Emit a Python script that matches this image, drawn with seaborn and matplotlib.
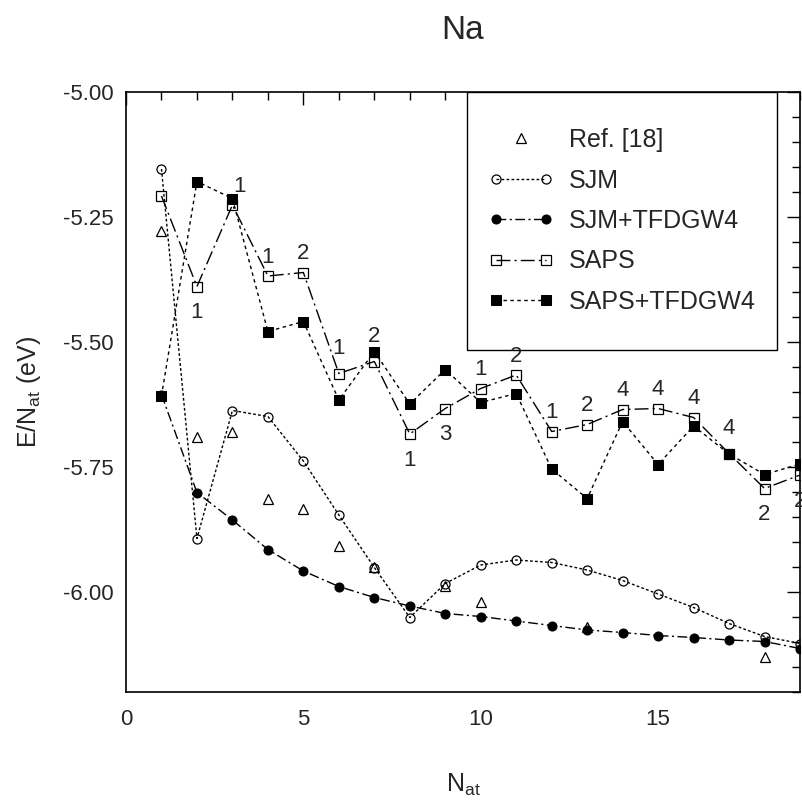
import numpy as np
import pandas as pd
import matplotlib
matplotlib.use("Agg")
import matplotlib.pyplot as plt
import seaborn as sns
from matplotlib.patches import Rectangle
from matplotlib.legend_handler import HandlerLine2D
from matplotlib.ticker import MultipleLocator, FormatStrFormatter

# ---------------- data ----------------
n_at = list(range(1, 20))
ref_n = [1, 2, 3, 4, 5, 6, 7, 9, 10, 13, 18]
ref_e = [-5.277, -5.689, -5.679, -5.813, -5.833, -5.908, -5.950, -5.988, -6.019, -6.069, -6.129]
sjm = [-5.154, -5.893, -5.637, -5.649, -5.738, -5.846, -5.951, -6.051, -5.983, -5.946,
       -5.936, -5.941, -5.956, -5.977, -6.004, -6.031, -6.063, -6.089, -6.103]
sjm_tfdgw4 = [-5.605, -5.801, -5.856, -5.915, -5.958, -5.989, -6.011, -6.028, -6.043, -6.049,
              -6.058, -6.067, -6.076, -6.081, -6.087, -6.091, -6.096, -6.099, -6.113]
saps = [-5.208, -5.389, -5.226, -5.368, -5.361, -5.563, -5.539, -5.684, -5.633, -5.593,
        -5.566, -5.679, -5.665, -5.635, -5.633, -5.651, -5.723, -5.793, -5.766]
saps_tfdgw4 = [-5.608, -5.179, -5.213, -5.479, -5.459, -5.616, -5.519, -5.624, -5.555, -5.621,
               -5.603, -5.754, -5.813, -5.659, -5.745, -5.668, -5.724, -5.765, -5.744]
saps_labels = ["", "1", "1", "1", "2", "1", "2", "1", "3", "1",
               "2", "1", "2", "4", "4", "4", "4", "2", "2"]
saps_label_side = ["", "b", "r", "a", "a", "A", "A", "b", "b", "a",
                   "a", "a", "a", "a", "a", "a", "A", "b", "b"]
series_names = ["Ref. [18]", "SJM", "SJM+TFDGW4", "SAPS", "SAPS+TFDGW4"]

# ---------------- style ----------------
sns.set_style("white")
plt.rcParams["font.family"] = ["Liberation Sans", "DejaVu Sans"]
plt.rcParams["mathtext.fontset"] = "custom"
plt.rcParams["mathtext.rm"] = "Liberation Sans"
plt.rcParams["mathtext.it"] = "Liberation Sans:italic"
plt.rcParams["axes.unicode_minus"] = False

fig = plt.figure(figsize=(8.02, 8.10), dpi=100)
W, H = 802, 810
ax = fig.add_axes([126 / W, 1 - 692 / H, 674 / W, 600 / H])

lw = 1.0
sns.lineplot(x=ref_n, y=ref_e, ax=ax, color="black", marker="^", markersize=6.5,
             markerfacecolor="none", markeredgecolor="black", markeredgewidth=0.9,
             linestyle="none", label=series_names[0])
sns.lineplot(x=n_at, y=sjm, ax=ax, color="black", lw=lw, marker="o", markersize=6.5,
             markerfacecolor="none", markeredgecolor="black", markeredgewidth=0.9,
             linestyle=(0, (2, 1.6)), label=series_names[1])
sns.lineplot(x=n_at, y=sjm_tfdgw4, ax=ax, color="black", lw=lw, marker="o", markersize=6.5,
             markerfacecolor="black", markeredgecolor="black",
             linestyle=(0, (7, 2.5, 1.5, 2.5)), label=series_names[2])
sns.lineplot(x=n_at, y=saps, ax=ax, color="black", lw=lw, marker="s", markersize=7,
             markerfacecolor="none", markeredgecolor="black", markeredgewidth=0.9,
             linestyle=(0, (10, 3, 1.5, 3)), label=series_names[3])
sns.lineplot(x=n_at, y=saps_tfdgw4, ax=ax, color="black", lw=lw, marker="s", markersize=6.5,
             markerfacecolor="black", markeredgecolor="black",
             linestyle=(0, (2.5, 2.5)), label=series_names[4])

# isomer labels next to SAPS points
offsets = {"a": (0, 13.5), "A": (0, 18), "b": (0, -19), "r": (5, 13)}
for x, y, lab, side in zip(n_at, saps, saps_labels, saps_label_side):
    if lab:
        t = ax.annotate(lab, (x, y), xytext=offsets[side], textcoords="offset points",
                        ha="center", va="center", fontsize=16, annotation_clip=False,
                        zorder=7)
        t.set_clip_on(True)

# axes
ax.set_xlim(0, 19)
ax.set_ylim(-6.2, -5.0)
ax.xaxis.set_major_locator(MultipleLocator(5))
ax.xaxis.set_minor_locator(MultipleLocator(1))
ax.yaxis.set_major_locator(MultipleLocator(0.25))
ax.yaxis.set_minor_locator(MultipleLocator(0.05))
ax.yaxis.set_major_formatter(FormatStrFormatter("%.2f"))
ax.tick_params(which="both", direction="in", top=True, right=True, color="black", width=1.0)
ax.tick_params(which="major", length=9.5, labelsize=16)
ax.tick_params(axis="y", which="major", pad=9)
ax.tick_params(axis="x", which="major", pad=12)
ax.tick_params(which="minor", length=5.5)
for s in ax.spines.values():
    s.set_color("black")
    s.set_linewidth(1.2)

ax.set_title("Na", fontsize=24, pad=38)
ax.set_xlabel(r"N$_{\mathrm{at}}$", fontsize=18, labelpad=30)
ax.set_ylabel(r"E/N$_{\mathrm{at}}$ (eV)", fontsize=18, labelpad=14)

# legend with box
box = Rectangle((0.506, 0.57), 0.46, 0.43, transform=ax.transAxes, facecolor="white",
                edgecolor="black", linewidth=1.0, zorder=5)
ax.add_patch(box)
handles, labels = ax.get_legend_handles_labels()
ref_handle = handles[0]
leg = ax.legend(handles, labels, loc="center", bbox_to_anchor=(0.506 + 0.23, 0.57 + 0.215),
                frameon=False, fontsize=18, numpoints=2, handlelength=2.6,
                handletextpad=0.6, labelspacing=0.66,
                handler_map={ref_handle: HandlerLine2D(numpoints=1)})
leg.set_zorder(6)

fig.savefig("out.png", dpi=100)
